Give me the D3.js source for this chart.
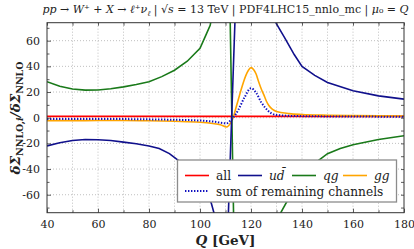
<!DOCTYPE html>
<html>
<head>
<meta charset="utf-8">
<script src="https://cdn.jsdelivr.net/npm/d3@7"></script>
<style>
  body { margin: 0; background: #fff; }
  svg text { font-family: "DejaVu Serif", serif; fill: #222; }
</style>
</head>
<body>
<svg id="chart" width="414" height="249"></svg>
<script>
// channel ratios dSigma_NNLO,i / dSigma_NNLO vs Q [GeV]
var allQ = [40, 180];
var allVal = [1, 1];

var udQ = [40, 45, 50, 55, 60, 65, 70, 75, 80, 84, 88, 92, 96, 100, 103, 104.5, 106, 108, 110,
           115, 120, 125, 130, 133, 137, 140, 145, 150, 160, 170, 180];
var udVal = [-22, -19.5, -17.8, -17, -17.2, -17.8, -19, -20.3, -22, -24, -28, -34, -41, -50, -59, -67, -78, -100, -140,
             150, 120, 95, 73, 63, 49, 40, 33, 27.5, 21, 17, 14.5];

var qgQ = [40, 45, 50, 55, 60, 65, 70, 75, 80, 85, 90, 95, 100, 102, 104, 105, 108, 111,
           114, 118, 122, 126, 130, 135, 140, 146, 150, 155, 160, 170, 180];
var qgVal = [28, 24.5, 22.3, 21.5, 21.6, 22.5, 24, 25.8, 28, 32, 37, 44, 54, 63, 72, 83, 115, 170,
             -170, -140, -115, -95, -80, -62, -48, -34, -28, -24, -21, -17, -14];

var ggQ = [40, 50, 60, 70, 80, 90, 100, 105, 108, 110.5, 112, 113, 114, 115, 116, 117, 118, 119, 120,
           121, 122, 123, 124, 125, 126, 127, 128, 129, 130, 135, 140, 150, 160, 170, 180];
var ggVal = [-2.3, -2.3, -2.2, -2.2, -2.4, -2.8, -3.5, -4.5, -5.5, -7.2, -4, 0, 7, 14, 21, 27.5, 33, 37, 39,
             37.5, 34, 28, 22.5, 18, 13, 9.5, 7.3, 5.8, 4.8, 3.2, 2.5, 1.9, 1.6, 1.4, 1.3];

var restQ = [40, 60, 80, 100, 105, 110.5, 112, 113, 115, 117.5, 120, 122, 124, 125.5, 128, 130, 140, 160, 180];
var restVal = [-1, -1, -1.3, -2.2, -3, -4.4, -2, 0, 6, 16, 23, 19.5, 12, 8, 3.4, 2.1, 1.2, 0.9, 0.8];

var xTicks = [40, 60, 80, 100, 120, 140, 160, 180];
var yTicks = [-60, -40, -20, 0, 20, 40, 60];

var svg = d3.select("#chart");
var pLeft = 47, pRight = 404, pTop = 22.7, pBottom = 212.7;

var x = d3.scaleLinear().domain([40, 180]).range([pLeft, pRight]);
var y = d3.scaleLinear().domain([-74, 74]).range([pBottom, pTop]);

// grid
var grid = svg.append("g");
grid.selectAll(".gx").data(d3.range(50, 180, 10)).enter().append("line")
  .attr("x1", function(d) { return x(d); }).attr("x2", function(d) { return x(d); })
  .attr("y1", pTop).attr("y2", pBottom)
  .attr("stroke", "#b0b0b0").attr("stroke-width", 0.8).attr("stroke-dasharray", "1,2");
grid.selectAll(".gy").data(yTicks).enter().append("line")
  .attr("y1", function(d) { return y(d); }).attr("y2", function(d) { return y(d); })
  .attr("x1", pLeft).attr("x2", pRight)
  .attr("stroke", "#b0b0b0").attr("stroke-width", 0.8).attr("stroke-dasharray", "1,2");

svg.append("clipPath").attr("id", "clip").append("rect")
  .attr("x", pLeft).attr("y", pTop).attr("width", pRight - pLeft).attr("height", pBottom - pTop);

function series(qs, vals) {
  return qs.map(function(q, i) { return [q, vals[i]]; });
}
var line = d3.line().x(function(d) { return x(d[0]); }).y(function(d) { return y(d[1]); });
var smooth = d3.line().curve(d3.curveMonotoneX).x(function(d) { return x(d[0]); }).y(function(d) { return y(d[1]); });

var curves = svg.append("g").attr("clip-path", "url(#clip)");
curves.append("path").attr("d", line(series(allQ, allVal)))
  .attr("fill", "none").attr("stroke", "#ff0000").attr("stroke-width", 1.6);
curves.append("path").attr("d", smooth(series(ggQ, ggVal)))
  .attr("fill", "none").attr("stroke", "#ffa500").attr("stroke-width", 1.6);
curves.append("path").attr("d", line(series(qgQ, qgVal)))
  .attr("fill", "none").attr("stroke", "#1a7a1a").attr("stroke-width", 1.6);
curves.append("path").attr("d", line(series(udQ, udVal)))
  .attr("fill", "none").attr("stroke", "#10108c").attr("stroke-width", 1.6);
curves.append("path").attr("d", smooth(series(restQ, restVal)))
  .attr("fill", "none").attr("stroke", "#1010c0").attr("stroke-width", 2).attr("stroke-dasharray", "1.4,1.6");

// axes, ticks inward on all sides
var axB = d3.axisBottom(x).tickValues(xTicks).tickSizeInner(-4).tickSizeOuter(0).tickPadding(8).tickFormat(d3.format("d"));
var axT = d3.axisTop(x).tickValues(d3.range(40, 181, 10)).tickSizeInner(-3).tickSizeOuter(0).tickFormat("");
var axL = d3.axisLeft(y).tickValues(yTicks).tickSizeInner(-4).tickSizeOuter(0).tickPadding(7).tickFormat(function(d) { return d < 0 ? "-" + (-d) : d; });
var axR = d3.axisRight(y).tickValues(d3.range(-70, 71, 10)).tickSizeInner(-3).tickSizeOuter(0).tickFormat("");
var axBm = d3.axisBottom(x).tickValues(d3.range(50, 180, 20)).tickSizeInner(-2.5).tickSizeOuter(0).tickFormat("");
var axLm = d3.axisLeft(y).tickValues(d3.range(-70, 71, 20)).tickSizeInner(-2.5).tickSizeOuter(0).tickFormat("");

[[axB, "translate(0," + pBottom + ")"], [axBm, "translate(0," + pBottom + ")"], [axT, "translate(0," + pTop + ")"],
 [axL, "translate(" + pLeft + ",0)"], [axLm, "translate(" + pLeft + ",0)"], [axR, "translate(" + pRight + ",0)"]]
  .forEach(function(a) {
    var g = svg.append("g").attr("transform", a[1]).call(a[0]);
    g.select(".domain").remove();
    g.attr("font-family", null);
    g.selectAll("line").attr("stroke", "#333").attr("stroke-width", 0.8);
    g.selectAll("text").style("font-size", "11px").attr("fill", "#222");
  });
svg.append("rect").attr("x", pLeft).attr("y", pTop).attr("width", pRight - pLeft).attr("height", pBottom - pTop)
  .attr("fill", "none").attr("stroke", "#333").attr("stroke-width", 1);

// legend
var lg = svg.append("g");
lg.append("rect").attr("x", 177.5).attr("y", 160).attr("width", 219).attr("height", 42)
  .attr("fill", "#fff").attr("stroke", "#8c8c8c").attr("stroke-width", 1.3);
var items = [
  {c: "#ff0000", x: 185, y: 175.5, t: "all", dash: null},
  {c: "#10108c", x: 238, y: 175.5, t: "ud", dash: null},
  {c: "#1a7a1a", x: 292, y: 175.5, t: "qg", dash: null},
  {c: "#ffa500", x: 343, y: 175.5, t: "gg", dash: null},
  {c: "#1010c0", x: 185, y: 191, t: "sum of remaining channels", dash: "1.4,1.6"}
];
items.forEach(function(d) {
  lg.append("line").attr("x1", d.x).attr("x2", d.x + 24).attr("y1", d.y).attr("y2", d.y)
    .attr("stroke", d.c).attr("stroke-width", d.dash ? 2 : 1.6).attr("stroke-dasharray", d.dash);
  var t = lg.append("text").attr("x", d.x + 31).attr("y", d.y + 4.5).style("font-size", "12.2px");
  if (d.t === "ud") {
    t.style("font-style", "italic").text("ud\u0304");
  } else if (d.t === "qg" || d.t === "gg") {
    t.style("font-style", "italic").text(d.t);
  } else {
    t.text(d.t);
  }
});

// title
var title = svg.append("text").attr("x", 225.5).attr("y", 13).attr("text-anchor", "middle").style("font-size", "11px");
var parts = [["pp", "i"], [" \u2192 ", ""], ["W", "i"], ["\u207A", ""], [" + ", ""], ["X", "i"], [" \u2192 ", ""],
  ["\u2113", "i"], ["\u207A", ""], ["\u03BD", "i"], ["\u2113", "sub"], [" | \u221A", "up"], ["s", "i"],
  [" = 13 TeV | PDF4LHC15_nnlo_mc | ", ""], ["\u03BC", "i"], ["\u2080", ""], [" = ", ""], ["Q", "i"]];
parts.forEach(function(p) {
  var s = title.append("tspan").text(p[0]);
  if (p[1] === "i") s.style("font-style", "italic");
  if (p[1] === "sub") s.style("font-size", "7.5px").style("font-style", "italic").attr("dy", 2.5);
  if (p[1] === "up") s.attr("dy", -2.5);
});

// x label
var xl = svg.append("text").attr("x", 225.5).attr("y", 245).attr("text-anchor", "middle")
  .style("font-size", "13.5px").style("font-weight", "bold");
xl.append("tspan").style("font-style", "italic").text("Q");
xl.append("tspan").text(" [GeV]");

// y label
var yl = svg.append("text").attr("transform", "translate(20,118) rotate(-90)").attr("text-anchor", "middle")
  .style("font-size", "13.5px").style("font-weight", "bold");
yl.append("tspan").style("font-style", "italic").text("\u03B4\u03A3");
yl.append("tspan").style("font-size", "9.5px").attr("dy", 3).text("NNLO,");
yl.append("tspan").style("font-size", "9.5px").style("font-style", "italic").text("i");
yl.append("tspan").attr("dy", -3).style("font-style", "italic").text("/\u03B4\u03A3");
yl.append("tspan").style("font-size", "9.5px").attr("dy", 3).text("NNLO");
</script>
</body>
</html>
